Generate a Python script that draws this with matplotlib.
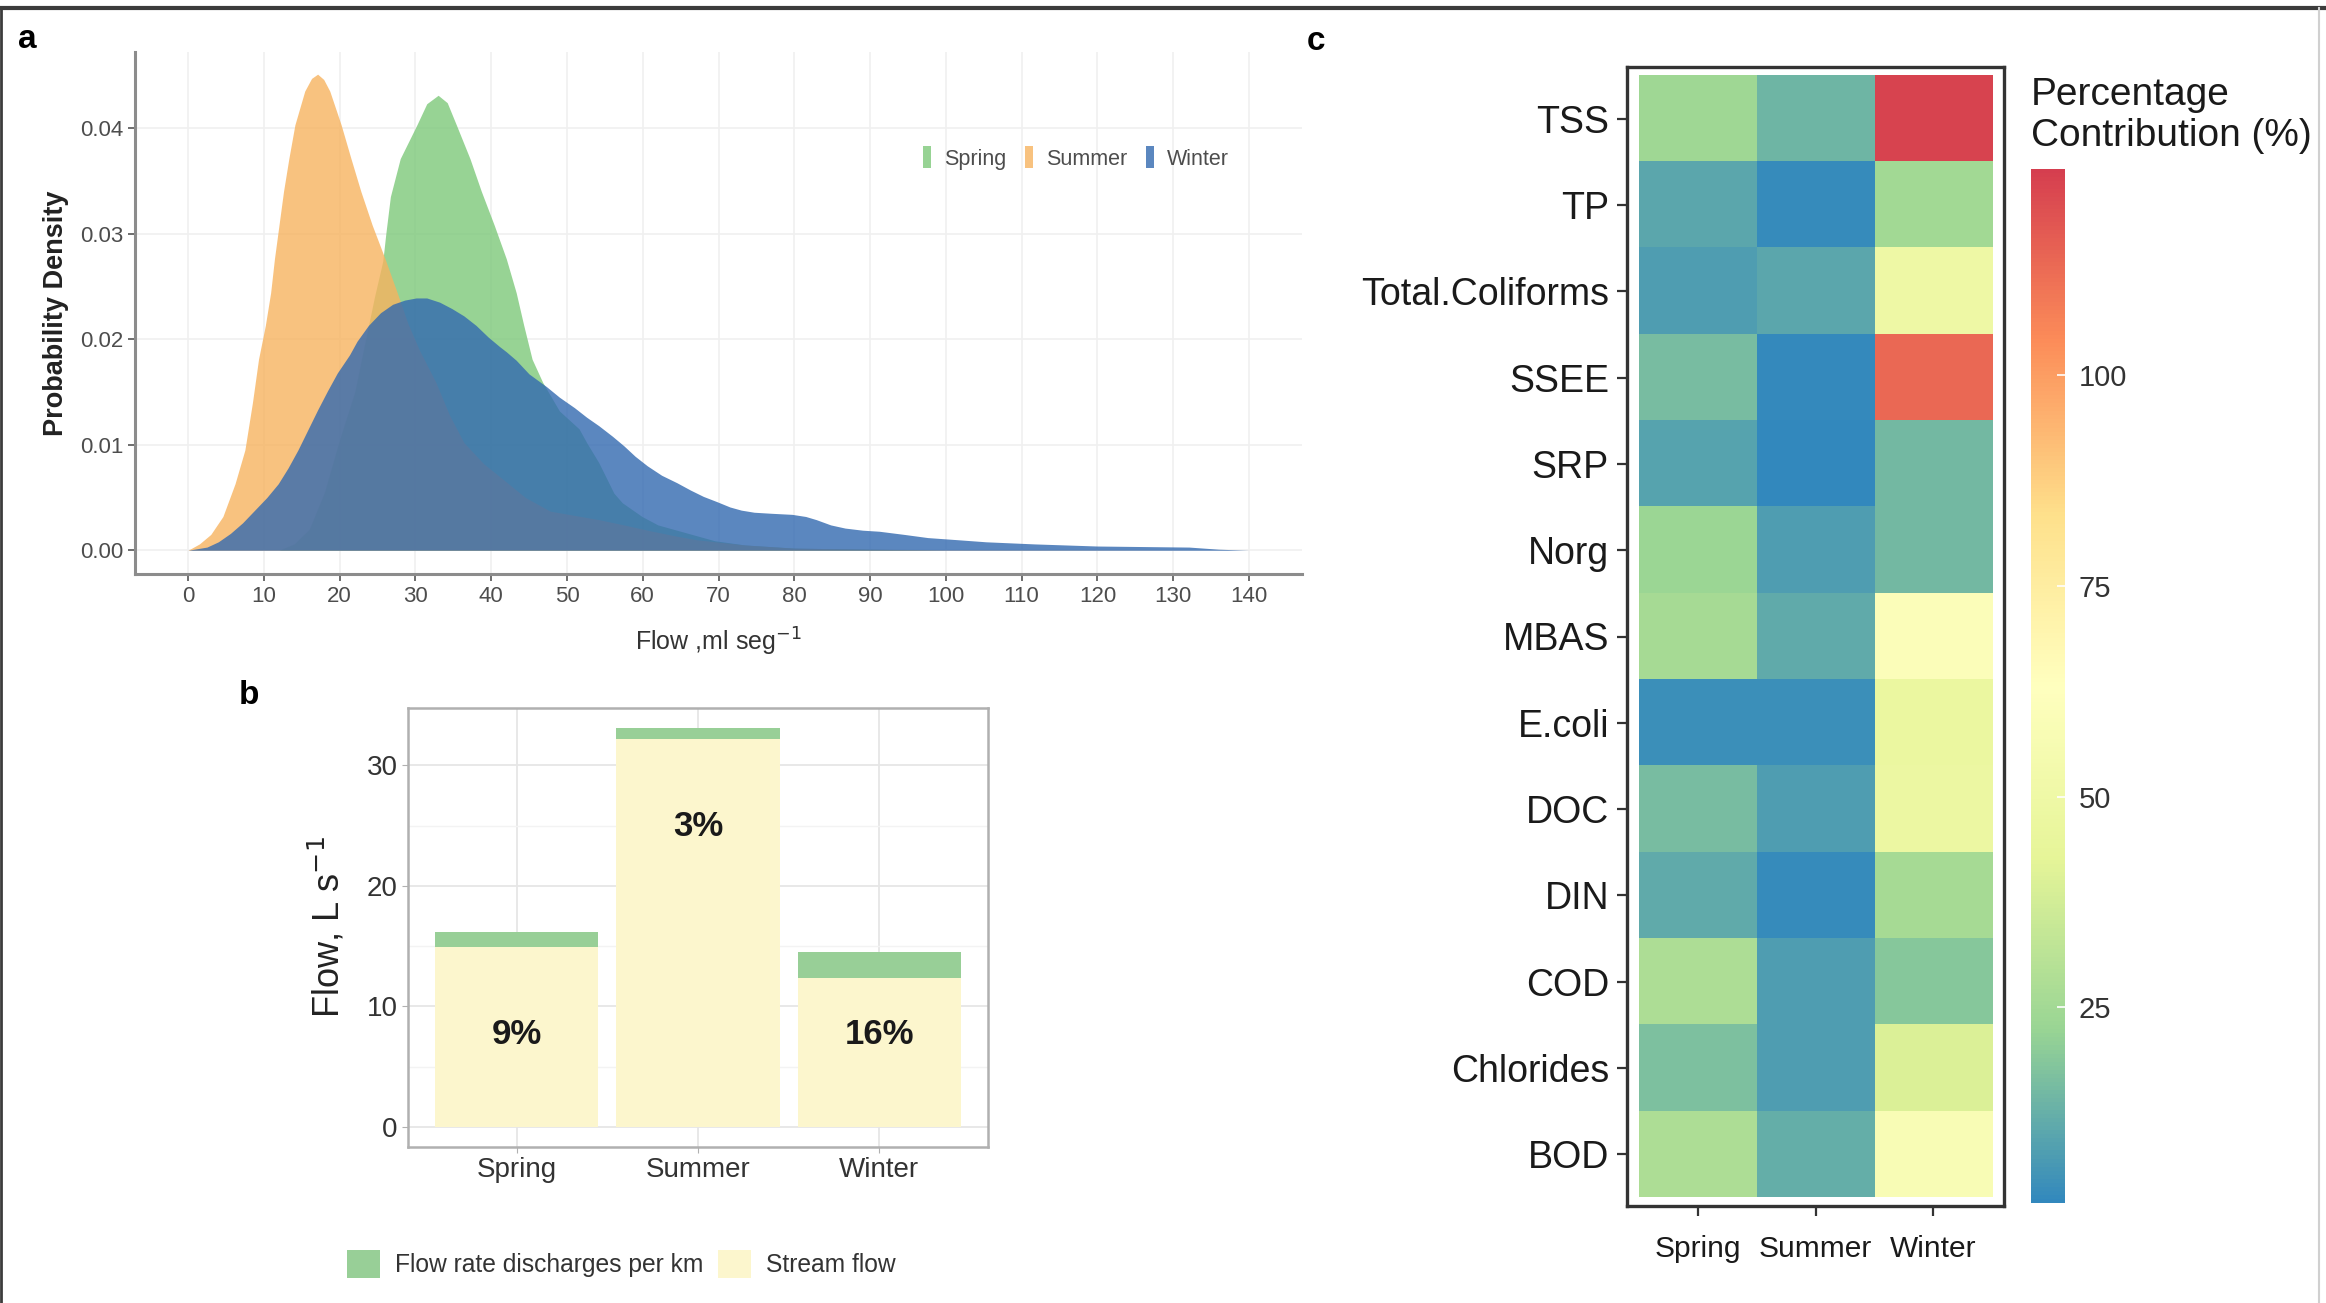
import numpy as np
import matplotlib
matplotlib.use("Agg")
import matplotlib.pyplot as plt
from matplotlib.colors import LinearSegmentedColormap
from matplotlib.lines import Line2D

plt.rcParams["font.family"] = ["Liberation Sans", "DejaVu Sans"]

# ---- panel a: density curves ----
seasons = ["Spring", "Summer", "Winter"]

spring_x = [12, 14, 16, 18, 20, 22, 23.0, 24.6, 25.7, 26.1, 26.7, 28.0, 30.2, 31.5, 33.0,
            34.2, 35.4, 37.2, 38.7, 40.4, 42.0, 43.3, 44.3, 45.4, 46.8, 49.0, 51.6, 52.6,
            54.2, 56.2, 57.3, 59.9, 62.0, 64.5, 69.5, 73.5, 80, 90, 100]
spring_y = [0.0, 0.0006, 0.0020, 0.0055, 0.0105, 0.0150, 0.0185, 0.0240, 0.0274, 0.0300,
            0.0335, 0.0371, 0.0403, 0.0423, 0.0431, 0.0424, 0.0403, 0.0371, 0.0340, 0.0308,
            0.0276, 0.0244, 0.0213, 0.0181, 0.0159, 0.0132, 0.0115, 0.0102, 0.0083, 0.0054,
            0.0045, 0.0032, 0.0024, 0.0019, 0.0009, 0.0005, 0.0002, 0.0001, 0.0]

summer_x = [0, 1.5, 3, 4.6, 6.2, 7.5, 8.5, 9.3, 10.2, 10.9, 11.4, 12.0, 12.6, 13.3, 14.1,
            15.4, 16.3, 17.1, 17.9, 18.7, 20.2, 21.5, 22.8, 24.3, 26.0, 27.6, 29.0, 30.5,
            32.7, 34.5, 36.4, 39.0, 41.6, 44.5, 47.8, 51.0, 54.2, 57.5, 60.6, 64.0, 67.0,
            73.5, 80, 90, 100, 140]
summer_y = [0.0, 0.0006, 0.0015, 0.0032, 0.0063, 0.0095, 0.0140, 0.0181, 0.0213, 0.0244,
            0.0276, 0.0308, 0.0340, 0.0371, 0.0403, 0.0435, 0.0447, 0.0451, 0.0446, 0.0435,
            0.0403, 0.0371, 0.0340, 0.0308, 0.0276, 0.0244, 0.0215, 0.0190, 0.0159, 0.0128,
            0.0102, 0.0082, 0.0067, 0.0050, 0.0037, 0.0033, 0.0029, 0.0024, 0.0019, 0.0014,
            0.0010, 0.0005, 0.0002, 0.0001, 0.00005, 0.0]

winter_x = [0, 2.5, 4.0, 5.6, 7.2, 8.8, 10.4, 11.9, 13.2, 14.5, 15.8, 17.1, 18.4, 19.7,
            21.3, 22.3, 23.8, 25.4, 27.0, 28.6, 30.1, 31.5, 33.2, 34.8, 36.4, 38.0, 39.6,
            41.1, 42.0, 43.3, 45.0, 47.3, 49.0, 51.0, 52.6, 54.2, 56.0, 57.5, 59.0, 60.6,
            62.5, 64.5, 66.3, 68.0, 69.8, 71.5, 73.0, 74.7, 77.0, 79.7, 81.5, 82.9, 84.8,
            86.7, 89.0, 91.2, 94.5, 97.6, 101.5, 105.3, 111.7, 120.0, 126.0, 132.1, 136.0,
            140.0]
winter_y = [0.0, 0.0003, 0.0008, 0.0016, 0.0026, 0.0038, 0.0050, 0.0063, 0.0078, 0.0095,
            0.0114, 0.0133, 0.0151, 0.0168, 0.0185, 0.0198, 0.0213, 0.0225, 0.0233, 0.0237,
            0.0239, 0.0239, 0.0235, 0.0229, 0.0222, 0.0213, 0.0202, 0.0193, 0.0188, 0.0180,
            0.0167, 0.0155, 0.0145, 0.0135, 0.0126, 0.0118, 0.0108, 0.0099, 0.0089, 0.0080,
            0.0071, 0.0064, 0.0057, 0.0051, 0.0046, 0.0041, 0.0038, 0.0036, 0.0035, 0.0034,
            0.0032, 0.0029, 0.0024, 0.0021, 0.0019, 0.0018, 0.0015, 0.0012, 0.0010, 0.0008,
            0.0006, 0.0004, 0.00035, 0.0003, 0.0001, 0.0]

# ---- panel b: stacked bars ----
stream_flow = [14.9, 32.2, 12.4]
discharge = [1.3, 0.9, 2.1]
pct_labels = ["9%", "3%", "16%"]
pct_y = [7.7, 24.9, 7.7]

# ---- panel c: heatmap ----
params = ["TSS", "TP", "Total.Coliforms", "SSEE", "SRP", "Norg", "MBAS", "E.coli",
          "DOC", "DIN", "COD", "Chlorides", "BOD"]
contrib_spring = [24, 10, 8, 16, 9, 23, 26, 4, 16, 11, 28, 17, 28]
contrib_summer = [14, 3, 10, 2.5, 2, 8, 11, 4, 8, 3, 8, 8, 12]
contrib_winter = [123, 25, 50, 113, 15, 15, 60, 47, 48, 26, 19, 40, 58]

W, H = 2326, 1303
fig = plt.figure(figsize=(W / 100, H / 100), dpi=100)


def box(l, t, r, b):
    return [l / W, 1 - b / H, (r - l) / W, (b - t) / H]


# ================= panel a =================
ax = fig.add_axes(box(135, 52, 1302, 574))
cols_a = {"Spring": "#7dc87a", "Summer": "#f7b35f", "Winter": "#3269b0"}
for name, xs, ys in [("Spring", spring_x, spring_y), ("Summer", summer_x, summer_y),
                     ("Winter", winter_x, winter_y)]:
    ax.fill_between(xs, ys, 0, color=cols_a[name], alpha=0.8, lw=0, label=name)
ax.set_xlim(-7, 147)
ax.set_ylim(-0.00225, 0.0472)
ax.set_xticks(np.arange(0, 141, 10))
ax.set_yticks([0, 0.01, 0.02, 0.03, 0.04])
ax.set_yticklabels(["0.00", "0.01", "0.02", "0.03", "0.04"])
ax.grid(True, color="#f0f0f0", lw=1.2)
ax.set_axisbelow(True)
for s in ["top", "right"]:
    ax.spines[s].set_visible(False)
for s in ["left", "bottom"]:
    ax.spines[s].set_color("#8c8c8c")
    ax.spines[s].set_linewidth(2.2)
ax.tick_params(colors="#555555", labelcolor="#4d4d4d", length=5, width=1.2, labelsize=16)
ax.set_xlabel("Flow ,ml seg$^{-1}$", fontsize=18, color="#333333", labelpad=14)
ax.set_ylabel("Probability Density", fontsize=19.5, fontweight="bold", color="#222222",
              labelpad=8)
leg = ax.legend(loc="center", bbox_to_anchor=(1076 / W, 1 - 158 / H),
                bbox_transform=fig.transFigure, ncol=3, frameon=False,
                handlelength=0.35, handleheight=1.2, handletextpad=0.6,
                columnspacing=0.9, prop={"size": 15.5})
for t in leg.get_texts():
    t.set_color("#4d4d4d")

# ================= panel b =================
bx = fig.add_axes(box(408, 708, 988, 1147))
xpos = np.arange(len(seasons))
bx.bar(xpos, stream_flow, width=0.9, color="#fcf6cd", label="Stream flow", zorder=2)
bx.bar(xpos, discharge, width=0.9, bottom=stream_flow, color="#98cf97",
       label="Flow rate discharges per km", zorder=2)
for i in range(len(seasons)):
    bx.text(xpos[i], pct_y[i], pct_labels[i], ha="center", va="center",
            fontsize=25, fontweight="bold", color="#1a1a1a", zorder=3)
bx.set_xlim(-0.6, 2.6)
bx.set_ylim(-1.65, 34.75)
bx.set_xticks(xpos)
bx.set_xticklabels(seasons)
bx.set_yticks([0, 10, 20, 30])
bx.set_yticks([5, 15, 25], minor=True)
bx.grid(True, which="major", color="#e6e6e6", lw=1.3)
bx.grid(True, which="minor", axis="y", color="#f3f3f3", lw=1.0)
bx.set_axisbelow(True)
for s in bx.spines.values():
    s.set_color("#b0b0b0")
    s.set_linewidth(1.8)
bx.tick_params(which="major", colors="#b0b0b0", labelcolor="#333333", length=4, labelsize=20)
bx.tick_params(which="minor", length=0)
bx.set_ylabel("Flow, L s$^{-1}$", fontsize=26, color="#222222", labelpad=14)
h, l = bx.get_legend_handles_labels()
leg_b = bx.legend(h[::-1], l[::-1], loc="center", bbox_to_anchor=(621 / W, 1 - 1264 / H),
                  bbox_transform=fig.transFigure, ncol=2, frameon=False,
                  handlelength=1.35, handleheight=1.35, handletextpad=0.6,
                  columnspacing=0.6, prop={"size": 17.7})
for t in leg_b.get_texts():
    t.set_color("#333333")

# ================= panel c =================
cx = fig.add_axes(box(1627, 67, 2004, 1206))
vals = np.array([contrib_spring, contrib_summer, contrib_winter]).T
spectral = LinearSegmentedColormap.from_list(
    "spec", ["#3288bd", "#99d594", "#e6f598", "#ffffbf", "#fee08b", "#fc8d59", "#d53e4f"])
im = cx.imshow(vals, cmap=spectral, vmin=1.8, vmax=124.5, aspect="auto",
               extent=(-0.5, 2.5, len(params) - 0.5, -0.5), interpolation="nearest")
cx.set_xlim(-0.6, 2.6)
cx.set_ylim(len(params) - 0.4, -0.6)
cx.set_xticks(np.arange(3))
cx.set_xticklabels(seasons, fontsize=21.5)
cx.set_yticks(np.arange(len(params)))
cx.set_yticklabels(params, fontsize=27)
for s in cx.spines.values():
    s.set_color("#333333")
    s.set_linewidth(2.4)
cx.tick_params(axis="y", colors="#333333", labelcolor="#1a1a1a", length=7, width=1.6, pad=6)
cx.tick_params(axis="x", colors="#333333", labelcolor="#1a1a1a", length=7, width=1.6, pad=14)

cax = fig.add_axes(box(2031, 169, 2065, 1203))
cb = fig.colorbar(im, cax=cax)
cb.outline.set_visible(False)
cb.set_ticks([25, 50, 75, 100])
cax.tick_params(colors="white", labelcolor="#333333", direction="in", length=6,
                width=1.2, labelsize=21, pad=10)
fig.text(2031 / W, 1 - 77 / H, "Percentage\nContribution (%)", fontsize=28,
         color="#1a1a1a", ha="left", va="top", linespacing=1.18)

# panel letters
fig.text(18 / W, 1 - 40 / H, "a", fontsize=24, fontweight="bold", va="center")
fig.text(239 / W, 1 - 696 / H, "b", fontsize=24, fontweight="bold", va="center")
fig.text(1307 / W, 1 - 42 / H, "c", fontsize=24, fontweight="bold", va="center")

# outer frame
fig.add_artist(Line2D([0, 1], [1 - 8 / H, 1 - 8 / H], transform=fig.transFigure,
                      color="#3c3c3c", lw=3))
fig.add_artist(Line2D([1 / W, 1 / W], [0, 1 - 8 / H], transform=fig.transFigure,
                      color="#3c3c3c", lw=2))
fig.add_artist(Line2D([2319 / W, 2319 / W], [0, 1 - 8 / H], transform=fig.transFigure,
                      color="#d0d0d0", lw=1.5))

fig.savefig("out.png", dpi=100)
